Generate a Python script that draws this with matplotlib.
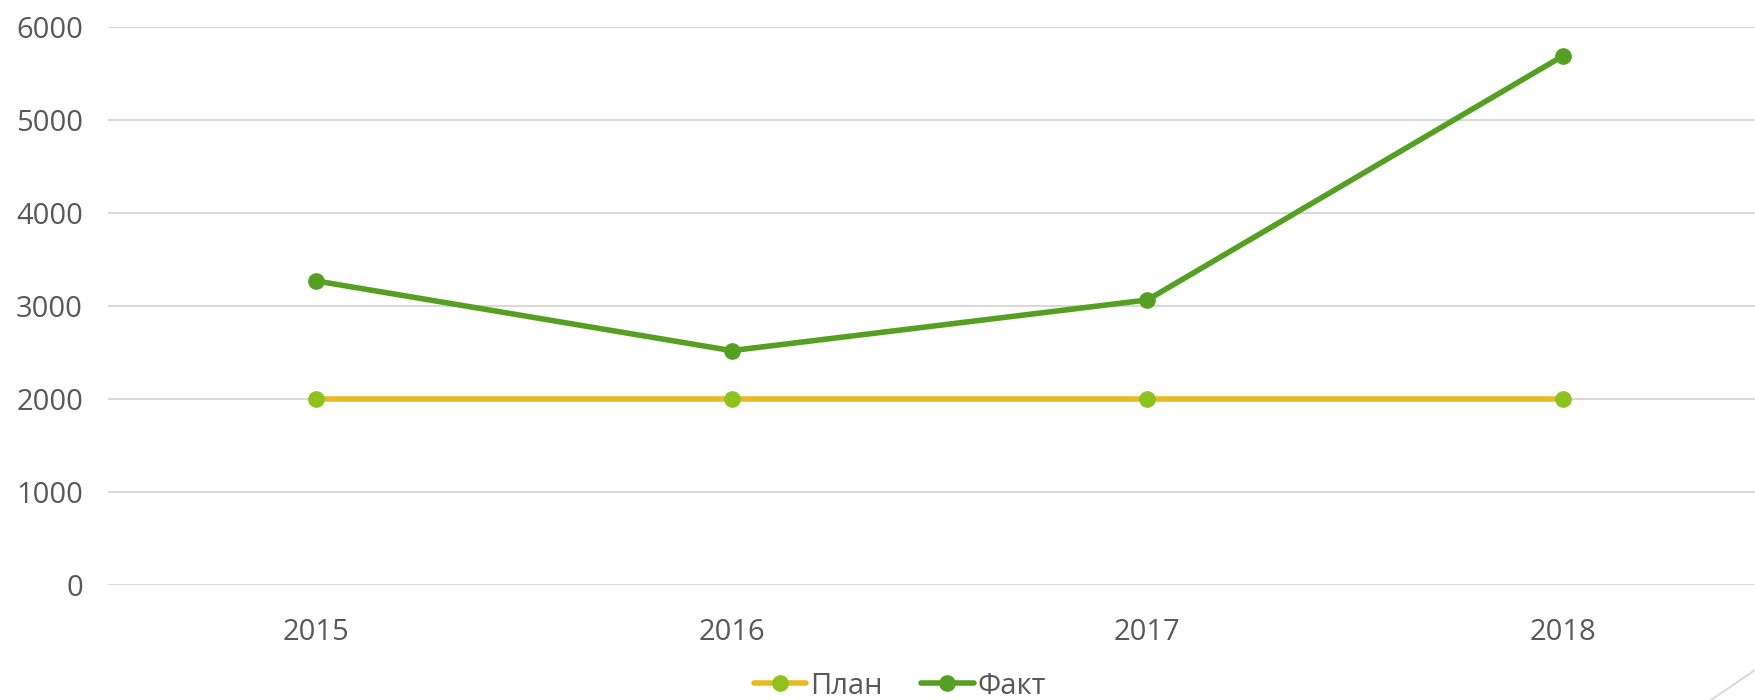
import matplotlib
matplotlib.use("Agg")
import matplotlib.pyplot as plt
from matplotlib.lines import Line2D

years = ["2015", "2016", "2017", "2018"]
plan = [2000, 2000, 2000, 2000]
fact = [3270, 2520, 3065, 5690]
yticks = [0, 1000, 2000, 3000, 4000, 5000, 6000]

plt.rcParams['font.family'] = ['Open Sans', 'DejaVu Sans']
W, H = 1755, 700
fig = plt.figure(figsize=(W/100, H/100), dpi=100)
ax = fig.add_axes([108/W, 115/H, (1771-108)/W, (585-27)/H])

x = list(range(len(years)))
ax.plot(x, plan, color="#E8B923", lw=4, marker='o', ms=11,
        markerfacecolor="#8DC21F", markeredgecolor="#8DC21F", label="План", zorder=3, solid_capstyle='round')
ax.plot(x, fact, color="#55A022", lw=4, marker='o', ms=11,
        markerfacecolor="#55A022", markeredgecolor="#55A022", label="Факт", zorder=4, solid_capstyle='round')

ax.set_xlim(-0.5, 3.5)
ax.set_ylim(0, 6000)
ax.set_yticks(yticks)
ax.set_xticks(x)
ax.set_xticklabels(years)
ax.grid(axis='y', color="#D9D9D9", lw=1.5)
ax.set_axisbelow(True)
for s in ax.spines.values():
    s.set_visible(False)
ax.tick_params(length=0, labelsize=21, labelcolor="#595959")
ax.tick_params(axis='y', pad=18)
ax.tick_params(axis='x', pad=24)

leg = fig.legend(loc='center', bbox_to_anchor=(900/W, 1-686/H), ncol=2, frameon=False,
                 fontsize=21, labelcolor="#595959", handlelength=1.8, handletextpad=0.15,
                 columnspacing=1.3)

fig.add_artist(Line2D([1711/W, 1.0], [0, 30/H], color="#D9D9D9", lw=1.5, transform=fig.transFigure))

fig.savefig("out.png", dpi=100)
